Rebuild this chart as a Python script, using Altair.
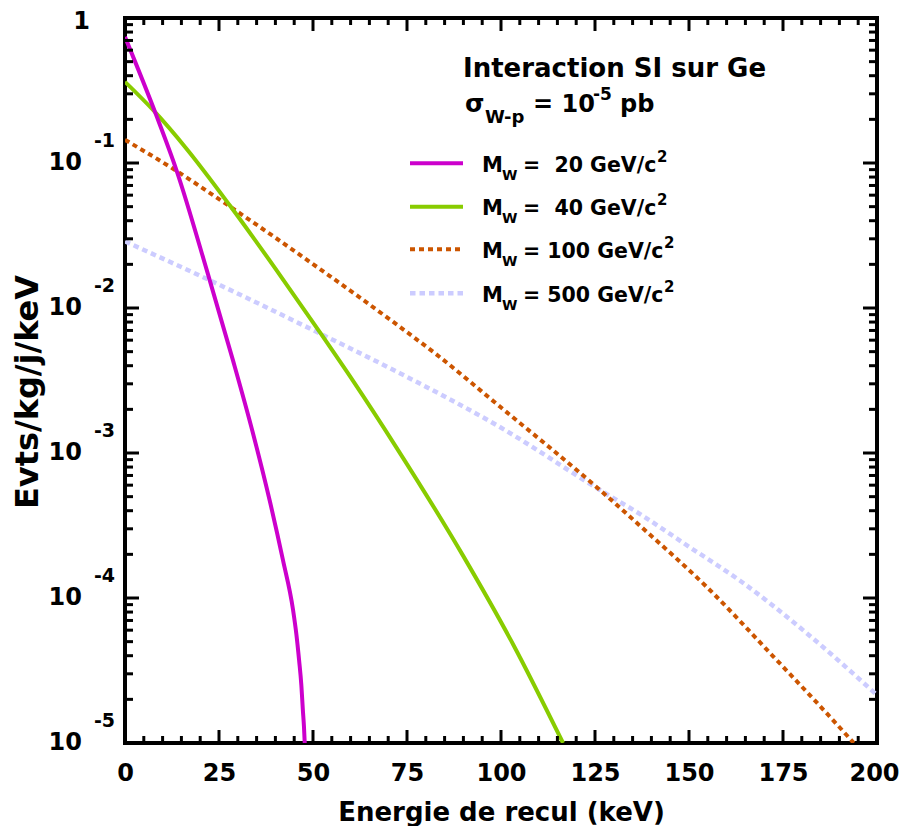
import altair as alt
import pandas as pd

# ---------------- data ----------------
x_domain = [0, 200]
y_domain = [1e-5, 1]

# M_W = 20 GeV/c^2
m20_E = [0, 8.3, 13.7, 22.1, 28.7, 34.0, 38.5, 42.0, 44.7, 45.6, 46.3, 46.9, 47.3, 47.6, 47.8]
m20_R = [0.741, 0.214, 0.0891, 0.0170, 0.00437, 0.00138, 4.68e-4, 1.83e-4, 8.26e-5, 5.56e-5,
         3.73e-5, 2.51e-5, 1.69e-5, 1.29e-5, 1.0e-5]

# M_W = 40 GeV/c^2
m40_E = [0, 7.4, 16.3, 27.9, 40.0, 51.8, 60.7, 72.2, 89.9, 103.2, 116.5]
m40_R = [0.363, 0.233, 0.126, 0.0509, 0.0187, 0.00682, 0.00313, 0.00109, 1.96e-4, 4.8e-5, 1.0e-5]

# M_W = 100 GeV/c^2
m100_E = [0, 12.8, 27.9, 51.8, 73.1, 82.8, 99.7, 126.3, 136.9, 154.6, 172.3, 191.9, 193.8]
m100_R = [0.1445, 0.0912, 0.0501, 0.0186, 0.00741, 0.00479, 0.00209, 5.56e-4, 3.16e-4, 1.2e-4,
          3.98e-5, 1.135e-5, 1.0e-5]

# M_W = 500 GeV/c^2
m500_E = [0, 22.6, 51.8, 73.1, 99.7, 126.3, 136.9, 150.2, 163.5, 181.2, 200]
m500_R = [0.0288, 0.0155, 0.00668, 0.00355, 0.00151, 5.56e-4, 3.8e-4, 2.24e-4, 1.32e-4, 5.75e-5, 2.14e-5]

x_ticks = [0, 25, 50, 75, 100, 125, 150, 175, 200]
y_decades = [1, 1e-1, 1e-2, 1e-3, 1e-4, 1e-5]
y_exponents = ["", "-1", "-2", "-3", "-4", "-5"]

NB = "\u00a0"
legend_numbers = [NB + "20", NB + "40", "100", "500"]

title_line1 = "Interaction SI sur Ge"
x_title = "Energie de recul (keV)"
y_title = "Evts/kg/j/keV"

# ---------------- styling / layout ----------------
W, H = 752, 725
FONT = "DejaVu Sans"

styles = [
    # (E, R, color, dash, width)
    (m500_E, m500_R, "#CCCCFF", [5.5, 4], 4.5),
    (m100_E, m100_R, "#CC5500", [5, 4], 4),
    (m40_E, m40_R, "#88CC00", None, 4),
    (m20_E, m20_R, "#CC00CC", None, 4),
]
legend_order = [3, 2, 1, 0]  # 20, 40, 100, 500
legend_line_y = [145.3, 188.7, 231.3, 275.3]
legend_sup_x = [532, 532, 539, 539]

xs = alt.Scale(domain=x_domain, nice=False, zero=False)
ys = alt.Scale(type="log", domain=y_domain, nice=False)

x_axis = alt.Axis(
    values=x_ticks, format="d", labelFont=FONT, labelFontSize=24,
    labelFontWeight="bold", labelColor="black", labelPadding=18,
    labelFlush=False, ticks=False, domain=False, grid=False,
    labelOffset={"condition": {"test": "datum.value == 200", "value": -3}, "value": 0},
    title=x_title, titleFont=FONT, titleFontSize=26, titleFontWeight="bold",
    titleColor="black", titleY=77, titleBaseline="alphabetic",
)
y_axis = alt.Axis(labels=False, ticks=False, domain=False, grid=False, title=None)


def X(field):
    return alt.X(field, scale=xs, axis=x_axis)


def Y(field):
    return alt.Y(field, scale=ys, axis=y_axis)


layers = []

# curves
for E, R, color, dash, sw in styles:
    df = pd.DataFrame({"E": E, "R": R})
    kw = dict(color=color, strokeWidth=sw, interpolate="monotone", clip=True)
    if dash:
        kw["strokeDash"] = dash
    layers.append(alt.Chart(df).mark_line(**kw).encode(x=X("E:Q"), y=Y("R:Q")))

# inward ticks
y_minor = [d * 10 ** k for k in range(-5, 0) for d in range(2, 10)]
x_minor = [v for v in range(0, 201, 5) if v % 25]

df_ymaj = pd.DataFrame({"v": y_decades})
df_ymin = pd.DataFrame({"v": y_minor})
df_xmaj = pd.DataFrame({"v": x_ticks})
df_xmin = pd.DataFrame({"v": x_minor})

tick_kw = dict(color="black", strokeWidth=3)
for df, ln in [(df_ymaj, 14), (df_ymin, 8)]:
    layers.append(alt.Chart(df).mark_rule(**tick_kw).encode(
        y=Y("v:Q"), x=alt.value(0), x2=alt.value(ln)))
    layers.append(alt.Chart(df).mark_rule(**tick_kw).encode(
        y=Y("v:Q"), x=alt.value(W), x2=alt.value(W - ln)))
for df, ln in [(df_xmaj, 13), (df_xmin, 7)]:
    layers.append(alt.Chart(df).mark_rule(**tick_kw).encode(
        x=X("v:Q"), y=alt.value(H), y2=alt.value(H - ln)))
    layers.append(alt.Chart(df).mark_rule(**tick_kw).encode(
        x=X("v:Q"), y=alt.value(0), y2=alt.value(ln)))

# y tick labels: "1", "10" with exponent
df_ylab = pd.DataFrame({"v": y_decades[1:], "t": ["10"] * 5, "e": y_exponents[1:]})
txt = dict(font=FONT, fontWeight="bold", color="black")
layers.append(alt.Chart(df_ylab).mark_text(align="right", baseline="middle", fontSize=24, **txt).encode(
    y=Y("v:Q"), x=alt.value(-43), text="t:N"))
layers.append(alt.Chart(df_ylab).mark_text(align="right", baseline="middle", fontSize=19, dy=-22, **txt).encode(
    y=Y("v:Q"), x=alt.value(-10), text="e:N"))
df_one = pd.DataFrame({"v": [1], "t": ["1"]})
layers.append(alt.Chart(df_one).mark_text(align="right", baseline="middle", fontSize=24, dy=4, **txt).encode(
    y=Y("v:Q"), x=alt.value(-35), text="t:N"))


def label(text, x, y, size, align="left", baseline="alphabetic", angle=None):
    kw = dict(align=align, baseline=baseline, fontSize=size, text=text, **txt)
    if angle is not None:
        kw["angle"] = angle
    return alt.Chart(df_one).mark_text(**kw).encode(x=alt.value(x), y=alt.value(y))


# y title
layers.append(label(y_title, -97, 374, 32, align="center", baseline="middle", angle=270))

# title block
layers.append(label(title_line1, 338, 59, 26))
layers.append(label("σ", 340, 94, 25))
layers.append(label("W-p", 360, 105, 18))
layers.append(label("= 10", 408, 94, 24))
layers.append(label("-5", 468, 82, 17))
layers.append(label("pb", 495, 94, 24))

# legend
for row, idx in enumerate(legend_order):
    E, R, color, dash, sw = styles[idx]
    ly = legend_line_y[row]
    rk = dict(color=color, strokeWidth=sw)
    if dash:
        rk["strokeDash"] = dash
    layers.append(alt.Chart(df_one).mark_rule(**rk).encode(
        x=alt.value(285), x2=alt.value(338), y=alt.value(ly)))
    layers.append(label("M", 357, ly + 8.4, 21))
    layers.append(label("W", 377, ly + 16.7, 14))
    layers.append(label("=" + NB + legend_numbers[row] + " GeV/c", 398, ly + 8.4, 20.5))
    layers.append(label("2", legend_sup_x[row], ly - 1.3, 15))

chart = alt.layer(*layers).properties(
    width=W, height=H,
    autosize=alt.AutoSizeParams(type="none"),
    padding={"left": 117, "top": 10, "right": 23, "bottom": 83},
    background="white",
).configure_view(stroke="black", strokeWidth=4)

chart.save("out.html", embed_options={"renderer": "svg", "actions": False})
